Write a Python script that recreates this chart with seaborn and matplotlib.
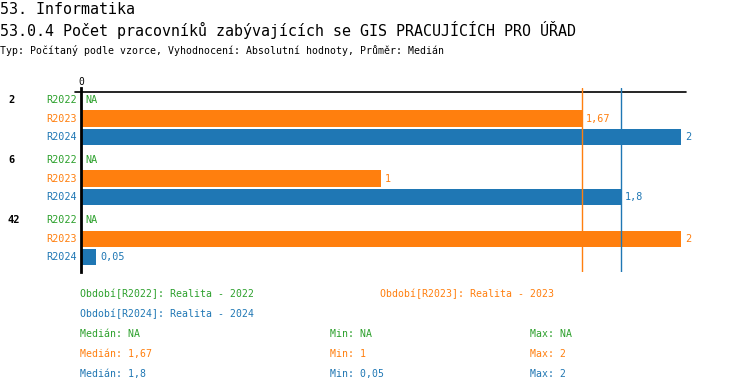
import numpy as np
import pandas as pd
import matplotlib
matplotlib.use("Agg")
import matplotlib.pyplot as plt
import matplotlib.transforms as mtransforms
import seaborn as sns

# data
groups = ['2', '6', '42']
years = ['R2022', 'R2023', 'R2024']
r2022 = [np.nan, np.nan, np.nan]
r2023 = [1.67, 1, 2]
r2024 = [2, 1.8, 0.05]
year_titles = ['Období[R2022]: Realita - 2022', 'Období[R2023]: Realita - 2023',
               'Období[R2024]: Realita - 2024']
colors = {'R2022': '#2ca02c', 'R2023': '#ff7f0e', 'R2024': '#1f77b4'}

sns.set_style('white')
plt.rcParams['font.family'] = ['DejaVu Sans Mono']
plt.rcParams['text.color'] = 'black'


def fmt(v):
    if np.isnan(v):
        return 'NA'
    return ('%.2f' % v).rstrip('0').rstrip('.').replace('.', ',')


# long table, one row per bar; groups separated by a small gap
series = {'R2022': r2022, 'R2023': r2023, 'R2024': r2024}
rows = []
for g, grp in enumerate(groups):
    for r, yr in enumerate(years):
        rows.append({'group': grp, 'year': yr, 'pos': g * 3.25 + r, 'value': series[yr][g]})
df = pd.DataFrame(rows)

W, H = 750, 392
fig = plt.figure(figsize=(W / 100, H / 100), dpi=100)
ax = fig.add_axes([81 / W, 1 - 272 / H, (700 - 81) / W, (272 - 88) / H])

sns.barplot(data=df, x='value', y='pos', hue='year', hue_order=years, palette=colors,
            orient='h', native_scale=True, dodge=False, width=0.88, errorbar=None,
            legend=False, ax=ax, saturation=1, linewidth=0)

ax.set_xlim(0, (700 - 81) / 300)
ax.set_ylim(9.3, -0.65)
ax.set_xticks([])
ax.set_yticks([])
ax.set_xlabel('')
ax.set_ylabel('')
for s in ['top', 'right', 'bottom']:
    ax.spines[s].set_visible(False)
ax.spines['left'].set_color('black')
ax.spines['left'].set_linewidth(2)

# top scale line and zero label
ax.plot([-0.02, 2.017], [-0.43, -0.43], color='black', lw=1.2, clip_on=False)
ax.annotate('0', xy=(0, -0.43), xytext=(0, 4), textcoords='offset points',
            ha='center', va='bottom', fontsize=7, annotation_clip=False)

# median lines
for yr in ['R2023', 'R2024']:
    ax.axvline(np.nanmedian(series[yr]), color=colors[yr], lw=1)

# labels
grp_tr = mtransforms.blended_transform_factory(fig.transFigure, ax.transData)
for _, row in df.iterrows():
    c = colors[row['year']]
    ax.annotate(row['year'], xy=(0, row['pos']), xytext=(-3, 0), textcoords='offset points',
                ha='right', va='center', color=c, fontsize=7.3, annotation_clip=False)
    v = row['value']
    ax.annotate(fmt(v), xy=(0 if np.isnan(v) else v, row['pos']), xytext=(3, 0),
                textcoords='offset points', ha='left', va='center', color=c, fontsize=7.3,
                annotation_clip=False)
    if row['year'] == years[0]:
        ax.text(8 / W, row['pos'], row['group'], transform=grp_tr, ha='left', va='center',
                fontsize=7.5, fontweight='bold', color='black')

# titles
fig.text(0, 1 - 9 / H, '53. Informatika', fontsize=10.8, va='center', ha='left')
fig.text(0, 1 - 30 / H, '53.0.4 Počet pracovníků zabývajících se GIS PRACUJÍCÍCH PRO ÚŘAD',
         fontsize=10.8, va='center', ha='left')
fig.text(0, 1 - 50 / H, 'Typ: Počítaný podle vzorce, Vyhodnocení: Absolutní hodnoty, Průměr: Medián',
         fontsize=7.1, va='center', ha='left')

# legend block
fs = 7.1
fig.text(80 / W, 1 - 294 / H, year_titles[0], color=colors['R2022'], fontsize=fs, va='center')
fig.text(380 / W, 1 - 294 / H, year_titles[1], color=colors['R2023'], fontsize=fs, va='center')
fig.text(80 / W, 1 - 314 / H, year_titles[2], color=colors['R2024'], fontsize=fs, va='center')
for i, yr in enumerate(years):
    vals = np.array(series[yr], dtype=float)
    if np.all(np.isnan(vals)):
        med = mn = mx = np.nan
    else:
        med, mn, mx = np.nanmedian(vals), np.nanmin(vals), np.nanmax(vals)
    y = 1 - (334 + 20 * i) / H
    fig.text(80 / W, y, 'Medián: ' + fmt(med), color=colors[yr], fontsize=fs, va='center')
    fig.text(330 / W, y, 'Min: ' + fmt(mn), color=colors[yr], fontsize=fs, va='center')
    fig.text(530 / W, y, 'Max: ' + fmt(mx), color=colors[yr], fontsize=fs, va='center')

fig.savefig('out.png', dpi=100)
